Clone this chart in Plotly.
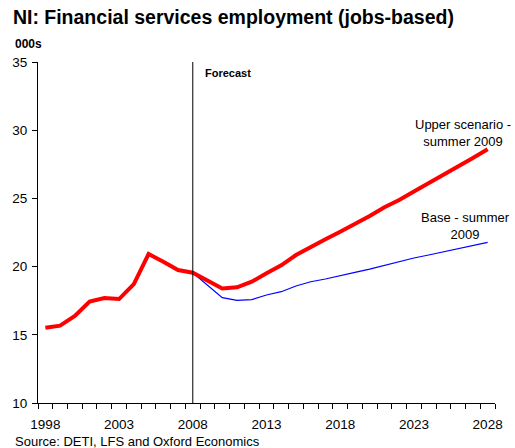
import plotly.graph_objects as go

years = list(range(1998, 2029))

# Historical + upper scenario (summer 2009), thousands of jobs
upper = [15.52, 15.67, 16.38, 17.43, 17.70, 17.62, 18.72, 20.92, 20.36, 19.75,
         19.55, 18.97, 18.40, 18.48, 18.89, 19.51, 20.09, 20.85, 21.46, 22.00,
         22.56, 23.12, 23.71, 24.35, 24.88, 25.50, 26.10, 26.72, 27.35, 27.96,
         28.60]

# Base scenario (summer 2009), from 2008 onward
base_years = list(range(2008, 2029))
base = [19.55, 18.65, 17.72, 17.53, 17.58, 17.92, 18.16, 18.58, 18.89, 19.09,
        19.31, 19.58, 19.82, 20.09, 20.39, 20.63, 20.85, 21.07, 21.29, 21.53,
        21.78]

forecast_start = 2008
label_years = [1998, 2003, 2008, 2013, 2018, 2023, 2028]
y_ticks = [10, 15, 20, 25, 30, 35]

font = "Liberation Sans, Arial, sans-serif"

fig = go.Figure()
fig.add_trace(go.Scatter(x=base_years, y=base, mode="lines",
                         line=dict(color="#0000FF", width=1.2),
                         hoverinfo="skip", showlegend=False))
fig.add_trace(go.Scatter(x=years, y=upper, mode="lines",
                         line=dict(color="#FF0000", width=4),
                         hoverinfo="skip", showlegend=False))

fig.add_shape(type="line", x0=forecast_start, x1=forecast_start, y0=10, y1=35,
              xref="x", yref="y", line=dict(color="black", width=1))

fig.add_annotation(x=forecast_start, y=34.2, xref="x", yref="y",
                   text="<b>Forecast</b>", showarrow=False,
                   xanchor="left", yanchor="middle", xshift=10,
                   font=dict(size=11, color="black", family=font))
fig.add_annotation(x=2026.35, y=29.83, xref="x", yref="y",
                   text="Upper scenario -<br>summer 2009", showarrow=False,
                   xanchor="center", yanchor="middle",
                   font=dict(size=13, color="black", family=font))
fig.add_annotation(x=2026.5, y=23.0, xref="x", yref="y",
                   text="Base - summer<br>2009", showarrow=False,
                   xanchor="center", yanchor="middle",
                   font=dict(size=13, color="black", family=font))

fig.add_annotation(x=0, y=1, xref="paper", yref="paper",
                   text="<b>000s</b>", showarrow=False,
                   xanchor="left", yanchor="bottom", xshift=-25, yshift=9,
                   font=dict(size=12, color="black", family=font))
fig.add_annotation(x=0, y=0, xref="paper", yref="paper",
                   text="Source: DETI, LFS and Oxford Economics", showarrow=False,
                   xanchor="left", yanchor="top", xshift=-25, yshift=-29,
                   font=dict(size=13, color="black", family=font))

fig.update_layout(
    width=515, height=448,
    margin=dict(l=37, r=13, t=62, b=45),
    paper_bgcolor="white", plot_bgcolor="white",
    title=dict(text="<b>NI: Financial services employment (jobs-based)</b>",
               x=0.025, xanchor="left", y=0.962, yanchor="middle",
               font=dict(size=19.5, color="black", family=font)),
    font=dict(family=font, color="black", size=13),
    xaxis=dict(range=[1997.5, 2028.5], tickvals=label_years,
               ticks="", showgrid=False, zeroline=False,
               showline=True, linecolor="black", linewidth=1,
               ticklabelstandoff=9,
               tickfont=dict(size=13.5, family=font),
               minor=dict(tick0=1997.5, dtick=1, ticks="outside",
                          ticklen=5, tickcolor="black", showgrid=False)),
    yaxis=dict(range=[10, 35], tickvals=y_ticks, ticks="outside",
               ticklen=5, tickcolor="black", showgrid=False, zeroline=False,
               showline=True, linecolor="black", linewidth=1,
               ticklabelstandoff=2,
               tickfont=dict(size=13.5, family=font)),
)

fig.write_html("out.html")
